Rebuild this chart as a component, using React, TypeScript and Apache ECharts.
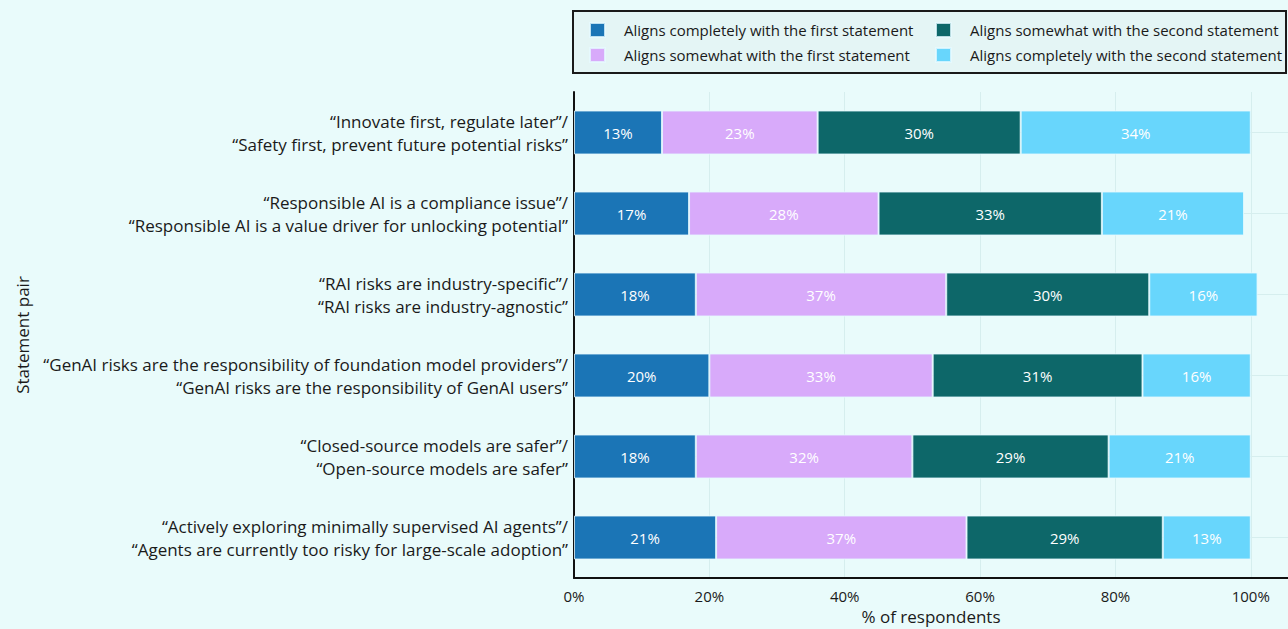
import React, { useEffect, useRef } from "react";
import * as echarts from "echarts";

const categories = [
  "“Innovate first, regulate later”/\n“Safety first, prevent future potential risks”",
  "“Responsible AI is a compliance issue”/\n“Responsible AI is a value driver for unlocking potential”",
  "“RAI risks are industry-specific”/\n“RAI risks are industry-agnostic”",
  "“GenAI risks are the responsibility of foundation model providers”/\n“GenAI risks are the responsibility of GenAI users”",
  "“Closed-source models are safer”/\n“Open-source models are safer”",
  "“Actively exploring minimally supervised AI agents”/\n“Agents are currently too risky for large-scale adoption”",
];

const seriesNames = [
  "Aligns completely with the first statement",
  "Aligns somewhat with the first statement",
  "Aligns somewhat with the second statement",
  "Aligns completely with the second statement",
];

const completelyFirst = [13, 17, 18, 20, 18, 21];
const somewhatFirst = [23, 28, 37, 33, 32, 37];
const somewhatSecond = [30, 33, 30, 31, 29, 29];
const completelySecond = [34, 21, 16, 16, 21, 13];

const xTicks = [0, 20, 40, 60, 80, 100];

const colors = ["#1b75b6", "#d8aafa", "#0d6769", "#68d6fc"];
const FONT = "'Open Sans'";

export default function App() {
  const ref = useRef<HTMLDivElement>(null);
  useEffect(() => {
    const chart = echarts.init(ref.current!, null, { renderer: "svg" });
    const values = [completelyFirst, somewhatFirst, somewhatSecond, completelySecond];
    const series: any[] = values.map((vals, i) => ({
      name: seriesNames[i],
      type: "bar",
      stack: "total",
      barWidth: 44,
      data: vals,
      itemStyle: { color: colors[i], borderColor: "rgba(230,250,255,0.8)", borderWidth: 1 },
      label: {
        show: true,
        position: "inside",
        formatter: "{c}%",
        color: "#ffffff",
        fontSize: 15,
        fontFamily: FONT,
      },
    }));
    series[0].markLine = {
      silent: true,
      symbol: "none",
      z: 0,
      label: { show: false },
      lineStyle: { color: "#d6eeee", width: 1, type: "solid" },
      data: categories.map((c) => ({ yAxis: c })),
    };
    const legendText = {
      fontFamily: FONT,
      fontSize: 15,
      lineHeight: 16,
      color: "#1a1a1a",
      padding: [0, 0, 0, 14],
    };
    chart.setOption({
      animation: false,
      backgroundColor: "#e9fbfb",
      textStyle: { fontFamily: FONT },
      grid: {
        left: 574,
        right: 0,
        top: 92,
        bottom: 51,
        containLabel: false,
        outerBoundsMode: "none",
      },
      legend: [
        {
          orient: "vertical",
          left: 589,
          top: 22,
          padding: 0,
          itemWidth: 15,
          itemHeight: 14,
          itemGap: 9,
          icon: "rect",
          data: [seriesNames[0], seriesNames[1]],
          textStyle: legendText,
        },
        {
          orient: "vertical",
          left: 935,
          top: 22,
          padding: 0,
          itemWidth: 15,
          itemHeight: 14,
          itemGap: 9,
          icon: "rect",
          data: [seriesNames[2], seriesNames[3]],
          textStyle: legendText,
        },
      ],
      graphic: [
        {
          type: "rect",
          z: -1,
          shape: { x: 573, y: 11, width: 713, height: 62 },
          style: { fill: "#e4f5f5", stroke: "#1a1a1a", lineWidth: 2 },
        },
      ],
      xAxis: {
        type: "value",
        min: 0,
        max: 105.5,
        interval: 20,
        name: "% of respondents",
        nameLocation: "middle",
        nameGap: 30,
        nameTextStyle: { fontFamily: FONT, fontSize: 17, color: "#1a1a1a" },
        axisLine: { show: true, lineStyle: { color: "#111", width: 2 } },
        axisTick: { show: false },
        axisLabel: {
          formatter: (v: number) => (xTicks.includes(v) ? v + "%" : ""),
          fontFamily: FONT,
          fontSize: 15,
          color: "#1a1a1a",
          margin: 10,
          showMaxLabel: false,
        },
        splitLine: { show: true, lineStyle: { color: "#d6eeee", width: 1 } },
      },
      yAxis: {
        type: "category",
        inverse: true,
        data: categories,
        name: "Statement pair",
        nameLocation: "middle",
        nameRotate: 90,
        nameGap: 543,
        nameTextStyle: { fontFamily: FONT, fontSize: 17, color: "#1a1a1a" },
        axisLine: { show: true, lineStyle: { color: "#111", width: 2 } },
        axisTick: { show: false },
        axisLabel: {
          fontFamily: FONT,
          fontSize: 17,
          color: "#1a1a1a",
          lineHeight: 23,
          align: "right",
          margin: 6,
        },
        splitLine: { show: false },
      },
      series,
    });
    return () => chart.dispose();
  }, []);
  return <div ref={ref} style={{ width: 1288, height: 629, position: "absolute", left: 0, top: 0 }} />;
}
